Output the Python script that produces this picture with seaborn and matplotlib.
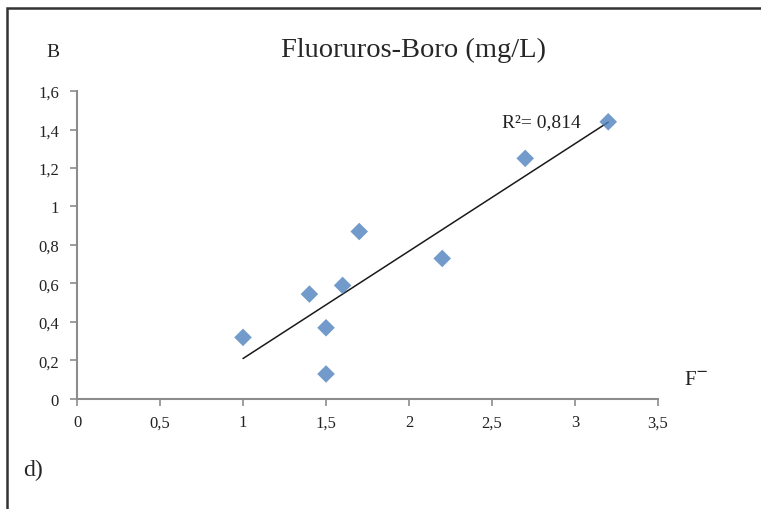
import numpy as np
import pandas as pd
import matplotlib.pyplot as plt
import seaborn as sns
from matplotlib.patches import Rectangle

# Datos
fluoruros = [1.0, 1.4, 1.5, 1.5, 1.6, 1.7, 2.2, 2.7, 3.2]
boro = [0.32, 0.545, 0.37, 0.13, 0.59, 0.87, 0.73, 1.25, 1.44]
x_ticks = [0, 0.5, 1, 1.5, 2, 2.5, 3, 3.5]
y_ticks = [0, 0.2, 0.4, 0.6, 0.8, 1, 1.2, 1.4, 1.6]

df = pd.DataFrame({'F': fluoruros, 'B': boro})

sns.set_style("ticks")
plt.rcParams['font.family'] = ['Liberation Serif', 'DejaVu Serif']

fig = plt.figure(figsize=(7.61, 5.10), dpi=100)
ax = fig.add_axes([0.1012, 0.2157, 0.8647 - 0.1012, 0.8196 - 0.2157])

sns.regplot(data=df, x='F', y='B', ax=ax, ci=None, truncate=True, marker='D',
            scatter_kws={'s': 80, 'color': '#4F81BD', 'edgecolor': 'none', 'zorder': 3},
            line_kws={'color': '#1a1a1a', 'lw': 1.1, 'zorder': 2})

ax.set_xlim(0, 3.5)
ax.set_ylim(0, 1.6)
ax.set_xticks(x_ticks)
ax.set_yticks(y_ticks)
fmt = lambda v: ('%g' % v).replace('.', ',')
ax.set_xticklabels([fmt(v) for v in x_ticks], fontsize=12)
ax.set_yticklabels([fmt(v) for v in y_ticks], fontsize=12)
ax.set_xlabel('')
ax.set_ylabel('')
for s in ['top', 'right']:
    ax.spines[s].set_visible(False)
for s in ['left', 'bottom']:
    ax.spines[s].set_color('#8c8c8c')
    ax.spines[s].set_linewidth(1.5)
ax.tick_params(axis='both', colors='#8c8c8c', labelcolor='#222222', length=5, width=1.2, pad=6)
ax.tick_params(axis='y', pad=8)

ax.text(2.56, 1.44, 'R²= 0,814', fontsize=14, va='center', ha='left', color='#222222')

fig.text(0.543, 0.902, 'Fluoruros-Boro (mg/L)', fontsize=20.5, ha='center', va='center')
fig.text(0.07, 0.898, 'B', fontsize=14, ha='center', va='center', color='#222222')
fig.text(0.915, 0.253, 'F$^{\\mathsf{-}}$', fontsize=15, ha='center', va='center', color='#222222')
fig.text(0.044, 0.078, 'd)', fontsize=17, ha='center', va='center')

# Marco exterior
fig.patches.append(Rectangle((7 / 761, -0.1), 1.2, 1 - 9 / 510 + 0.1, transform=fig.transFigure,
                             fill=False, edgecolor='#333333', lw=1.8))

fig.savefig('out.png', dpi=100)
